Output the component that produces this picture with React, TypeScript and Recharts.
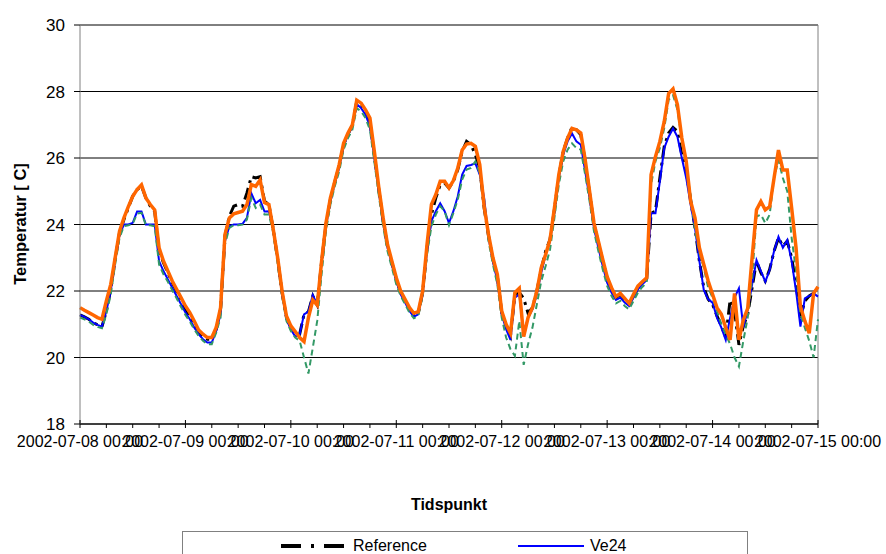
import React from 'react';
import { LineChart, Line, XAxis, YAxis, CartesianGrid, ReferenceLine, Legend, Label } from 'recharts';

// hours since 2002-07-08 00:00
const HOURS: number[] = Array.from({ length: 169 }, (_, i) => i);

const DAY_LABELS = [
  '2002-07-08 00:00', '2002-07-09 00:00', '2002-07-10 00:00', '2002-07-11 00:00',
  '2002-07-12 00:00', '2002-07-13 00:00', '2002-07-14 00:00', '2002-07-15 00:00',
];
const X_TICKS = [0, 6, 12, 18, 24, 30, 36, 42, 48, 54, 60, 66, 72, 78, 84, 90, 96, 102, 108, 114, 120, 126, 132, 138, 144, 150, 156, 162, 168];
const Y_TICKS = [18, 20, 22, 24, 26, 28, 30];

const REFERENCE = [
  21.28, 21.22, 21.15, 21.05, 20.98, 20.93, 21.4, 22.05, 22.95, 23.75, 24.15, 24.5, 24.85, 25.05, 25.15, 24.8, 24.55, 24.4, 23.2, 22.85, 22.55, 22.25, 22.0, 21.75,
  21.45, 21.25, 21.0, 20.78, 20.62, 20.55, 20.55, 20.85, 21.45, 23.65, 24.25, 24.55, 24.6, 24.55, 24.95, 25.44, 25.4, 25.44, 24.7, 24.6, 23.85, 22.95, 21.95, 21.2,
  20.9, 20.7, 20.7, 21.3, 21.38, 21.85, 21.58, 22.88, 24.0, 24.75, 25.28, 25.75, 26.4, 26.72, 26.98, 27.7, 27.6, 27.4, 27.1, 26.1, 25.07, 24.12, 23.35, 22.85,
  22.35, 21.95, 21.7, 21.45, 21.28, 21.34, 21.95, 23.3, 24.3, 24.8, 25.2, 25.25, 25.1, 25.3, 25.65, 26.2, 26.5, 26.4, 26.1, 25.7, 24.5, 23.65, 22.95, 22.45,
  21.35, 20.95, 20.65, 21.9, 21.95, 21.78, 21.33, 21.5, 22.0, 22.65, 23.2, 23.55, 24.45, 25.45, 26.2, 26.6, 26.92, 26.85, 26.7, 25.9, 24.95, 24.0, 23.45, 22.9,
  22.4, 22.05, 21.8, 21.9, 21.75, 21.6, 21.85, 22.1, 22.25, 22.35, 24.34, 24.4, 25.4, 26.35, 26.75, 26.92, 26.8, 26.1, 25.6, 24.75, 23.9, 22.9, 22.1, 21.75,
  21.6, 21.25, 20.95, 20.6, 21.73, 21.4, 20.38, 20.95, 21.3, 22.1, 22.9, 22.55, 22.3, 22.65, 23.2, 23.6, 23.35, 23.5, 23.0, 22.2, 21.2, 21.7, 21.85, 21.93,
  21.85,
];

const VE24 = [
  21.28, 21.22, 21.15, 21.05, 20.98, 20.93, 21.4, 22.0, 22.9, 23.7, 24.0, 24.0, 24.05, 24.39, 24.39, 24.0, 24.0, 24.0, 22.9, 22.6, 22.35, 22.1, 21.85, 21.6,
  21.35, 21.15, 20.9, 20.7, 20.55, 20.45, 20.45, 20.8, 21.3, 23.5, 23.95, 24.0, 24.0, 24.02, 24.2, 24.94, 24.64, 24.74, 24.39, 24.4, 23.85, 22.9, 21.9, 21.15,
  20.85, 20.63, 20.7, 21.3, 21.38, 21.88, 21.58, 22.85, 23.95, 24.7, 25.25, 25.7, 26.35, 26.7, 26.95, 27.62, 27.5, 27.3, 26.95, 26.0, 25.0, 24.05, 23.3, 22.8,
  22.3, 21.9, 21.65, 21.4, 21.23, 21.3, 21.9, 23.2, 24.1, 24.4, 24.64, 24.4, 24.04, 24.4, 24.85, 25.5, 25.76, 25.79, 25.84, 25.5, 24.8, 23.6, 22.9, 22.3,
  21.3, 20.85, 20.53, 21.8, 21.9, 20.7, 21.2, 21.45, 21.9, 22.55, 23.1, 23.5, 24.4, 25.4, 26.1, 26.5, 26.74, 26.5, 26.4, 25.6, 24.8, 23.9, 23.3, 22.75,
  22.25, 21.95, 21.73, 21.8, 21.65, 21.55, 21.8, 22.05, 22.2, 22.33, 24.34, 24.34, 25.3, 26.3, 26.64, 26.89, 26.64, 26.0, 25.4, 24.6, 23.9, 22.9, 22.03, 21.75,
  21.65, 21.2, 20.9, 20.53, 21.2, 21.8, 22.08, 20.9, 21.43, 22.2, 22.93, 22.6, 22.28, 22.63, 23.2, 23.63, 23.3, 23.53, 22.9, 22.0, 20.93, 21.78, 21.85, 21.93,
  21.83,
];

const VE48 = [
  21.2, 21.15, 21.08, 20.98, 20.92, 20.88, 21.3, 21.9, 22.8, 23.6, 23.95, 23.98, 24.02, 24.33, 24.35, 23.98, 23.98, 23.95, 22.8, 22.5, 22.28, 22.02, 21.78, 21.52,
  21.28, 21.08, 20.85, 20.65, 20.5, 20.4, 20.4, 20.75, 21.2, 23.4, 23.9, 23.98, 23.98, 24.0, 24.15, 24.8, 24.5, 24.6, 24.3, 24.3, 23.75, 22.8, 21.85, 21.1,
  20.8, 20.6, 20.5, 20.0, 19.52, 20.3, 21.1, 22.5, 23.8, 24.6, 25.15, 25.6, 26.25, 26.6, 26.85, 27.5, 27.4, 27.2, 26.85, 25.9, 24.9, 23.95, 23.2, 22.7,
  22.2, 21.85, 21.6, 21.35, 21.18, 21.25, 21.85, 23.1, 23.95, 24.3, 24.55, 24.4, 23.98, 24.35, 24.75, 25.35, 25.65, 25.7, 25.9, 25.55, 24.75, 23.5, 22.8, 22.2,
  21.2, 20.6, 20.25, 20.05, 21.1, 19.78, 20.4, 20.9, 21.6, 22.3, 22.75, 23.25, 24.2, 25.2, 25.9, 26.25, 26.44, 26.3, 26.25, 25.5, 24.7, 23.8, 23.2, 22.65,
  22.15, 21.85, 21.63, 21.7, 21.55, 21.45, 21.7, 21.95, 22.12, 22.25, 25.2, 25.9, 26.3, 26.9, 27.75, 27.89, 27.45, 26.55, 25.75, 24.85, 23.85, 23.15, 22.7, 22.1,
  21.8, 21.4, 21.0, 20.7, 20.4, 20.0, 19.73, 20.5, 21.2, 22.4, 24.24, 24.3, 24.04, 24.3, 25.4, 25.94, 25.4, 25.0, 23.6, 22.6, 21.3, 20.9, 20.5, 20.0,
  21.15,
];

const VE72 = [
  21.5, 21.42, 21.35, 21.28, 21.2, 21.15, 21.7, 22.2, 23.0, 23.8, 24.2, 24.54, 24.85, 25.05, 25.19, 24.8, 24.6, 24.44, 23.3, 22.9, 22.6, 22.3, 22.05, 21.8,
  21.55, 21.35, 21.1, 20.83, 20.7, 20.6, 20.6, 20.9, 21.5, 23.7, 24.2, 24.32, 24.36, 24.4, 24.6, 25.2, 25.15, 25.34, 24.66, 24.6, 23.85, 23.0, 22.0, 21.25,
  20.95, 20.78, 20.6, 20.48, 21.2, 21.73, 21.58, 22.9, 24.05, 24.8, 25.3, 25.8, 26.44, 26.75, 27.0, 27.74, 27.65, 27.45, 27.2, 26.2, 25.14, 24.2, 23.4, 22.9,
  22.4, 22.0, 21.75, 21.5, 21.33, 21.38, 22.0, 23.4, 24.6, 24.9, 25.3, 25.3, 25.1, 25.32, 25.7, 26.24, 26.42, 26.44, 26.35, 25.8, 24.55, 23.7, 23.0, 22.5,
  21.4, 21.0, 20.73, 21.95, 22.08, 20.63, 21.2, 21.5, 22.0, 22.7, 23.1, 23.55, 24.5, 25.5, 26.2, 26.6, 26.89, 26.85, 26.75, 25.95, 25.0, 24.05, 23.5, 22.95,
  22.43, 22.1, 21.83, 21.93, 21.78, 21.63, 21.9, 22.15, 22.28, 22.4, 25.5, 26.04, 26.5, 27.1, 27.94, 28.08, 27.6, 26.6, 25.9, 24.7, 24.2, 23.3, 22.8, 22.3,
  21.9, 21.5, 21.3, 20.9, 20.53, 21.93, 20.53, 21.13, 21.48, 23.0, 24.44, 24.69, 24.44, 24.54, 25.4, 26.24, 25.64, 25.64, 24.5, 23.3, 21.53, 21.1, 20.73, 21.93,
  22.13,
];

const rows = HOURS.map((t, i) => ({
  t,
  reference: REFERENCE[i],
  ve24: VE24[i],
  ve48: VE48[i],
  ve72: VE72[i],
}));

const FONT = '"Liberation Sans", Arial, sans-serif';

const XTick = (props: any) => {
  const { x, y, payload } = props;
  const v = payload.value as number;
  const major = v % 24 === 0;
  return (
    <g>
      <line x1={x} x2={x} y1={major ? y - 4 : y} y2={y + 4} stroke="#000" strokeWidth={1} />
      {major && (
        <text x={x} y={y + 23} textAnchor="middle" fontSize={16} fill="#000" fontFamily={FONT}>
          {DAY_LABELS[v / 24]}
        </text>
      )}
    </g>
  );
};

const LegendSample = ({ color, width, dash }: { color: string; width: number; dash?: string }) => (
  <svg width={66} height={10} style={{ display: 'block' }}>
    <line x1={0} x2={66} y1={5} y2={5} stroke={color} strokeWidth={width} strokeDasharray={dash} />
  </svg>
);

const LegendBox = () => (
  <div
    style={{
      position: 'relative',
      width: 566,
      height: 60,
      border: '1px solid #808080',
      boxSizing: 'border-box',
      background: '#fff',
      fontFamily: FONT,
      fontSize: 16,
      color: '#000',
    }}
  >
    {[
      { label: 'Reference', color: '#000', width: 4, dash: '20 10 3 10', left: 98, top: 5 },
      { label: 'Ve24', color: '#0000FF', width: 2, left: 335, top: 5 },
      { label: 'Ve48', color: '#339966', width: 2, dash: '6 4', left: 98, top: 28 },
      { label: 'Ve72', color: '#FF6600', width: 4, left: 335, top: 28 },
    ].map((e) => (
      <div key={e.label} style={{ position: 'absolute', left: e.left, top: e.top, display: 'flex', alignItems: 'center', height: 18 }}>
        <LegendSample color={e.color} width={e.width} dash={e.dash} />
        <span style={{ marginLeft: 6, lineHeight: '18px' }}>{e.label}</span>
      </div>
    ))}
  </div>
);

export default function App() {
  return (
    <div style={{ position: 'absolute', left: 0, top: 0, width: 886, height: 554, overflow: 'hidden', background: '#fff' }}>
      <LineChart width={886} height={554} data={rows} margin={{ top: 25, right: 68, bottom: 0, left: 0 }}>
        <CartesianGrid horizontal vertical={false} stroke="#000" strokeWidth={1} />
        <XAxis
          dataKey="t"
          type="number"
          domain={[0, 168]}
          ticks={X_TICKS}
          interval={0}
          tick={<XTick />}
          tickLine={false}
          tickSize={0}
          tickMargin={0}
          axisLine={{ stroke: '#000', strokeWidth: 1 }}
          height={130}
        >
          <Label
            content={() => (
              <text x={449} y={510} textAnchor="middle" fontSize={16} fontWeight="bold" fill="#000" fontFamily={FONT}>
                Tidspunkt
              </text>
            )}
          />
        </XAxis>
        <YAxis
          type="number"
          domain={[18, 30]}
          ticks={Y_TICKS}
          interval={0}
          width={80}
          tickSize={6}
          tickMargin={9}
          tick={{ fontSize: 17, fill: '#000', fontFamily: FONT }}
          tickLine={{ stroke: '#000' }}
          axisLine={{ stroke: '#808080', strokeWidth: 1 }}
        >
          <Label
            content={() => (
              <text
                x={20}
                y={224}
                transform="rotate(-90 20 224)"
                textAnchor="middle"
                dominantBaseline="central"
                fontSize={16.5}
                fontWeight="bold"
                fill="#000"
                fontFamily={FONT}
              >
                Temperatur [ C]
              </text>
            )}
          />
        </YAxis>
        <ReferenceLine x={168} stroke="#808080" strokeWidth={1} />
        <Line dataKey="reference" name="Reference" stroke="#000" strokeWidth={3} strokeDasharray="12 5 3 5" dot={false} activeDot={false} isAnimationActive={false} type="linear" />
        <Line dataKey="ve24" name="Ve24" stroke="#0000FF" strokeWidth={2} dot={false} activeDot={false} isAnimationActive={false} type="linear" />
        <Line dataKey="ve48" name="Ve48" stroke="#339966" strokeWidth={2} strokeDasharray="6 4" dot={false} activeDot={false} isAnimationActive={false} type="linear" />
        <Line dataKey="ve72" name="Ve72" stroke="#FF6600" strokeWidth={3.5} dot={false} activeDot={false} isAnimationActive={false} type="linear" />
        <Legend
          layout="horizontal"
          verticalAlign="middle"
          align="center"
          wrapperStyle={{ left: 182, top: 531, width: 566, height: 60 }}
          content={() => <LegendBox />}
        />
      </LineChart>
    </div>
  );
}
